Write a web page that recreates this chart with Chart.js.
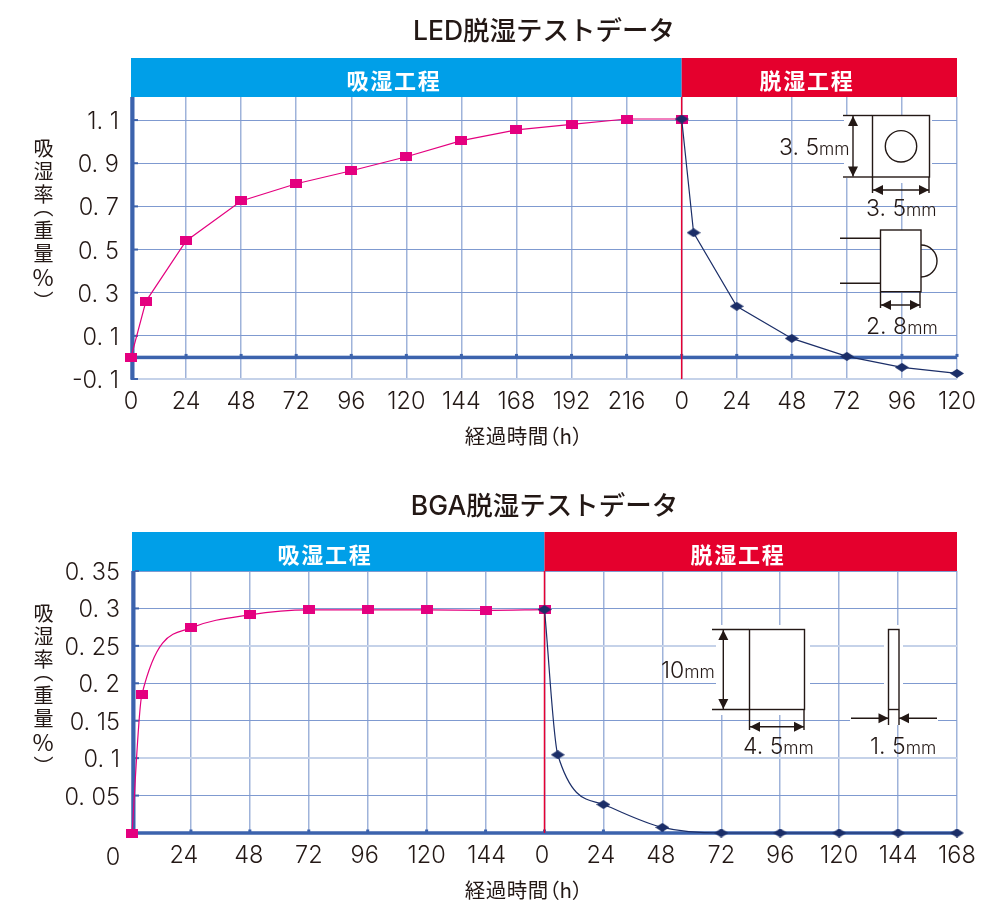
<!DOCTYPE html>
<html lang="ja">
<head>
<meta charset="utf-8">
<title>脱湿テストデータ</title>
<script src="https://cdn.jsdelivr.net/npm/chart.js@4/dist/chart.umd.js"></script>
<style>
    html, body { margin: 0; background: #fff; }
    #page { position: relative; width: 1001px; height: 911px; overflow: hidden; font-family: "Noto Sans CJK JP", sans-serif; color: #231815; }
    canvas { position: absolute; left: 0; }
    .ytitle { position: absolute; left: 31px; writing-mode: vertical-rl; text-orientation: upright; font-size: 20px; line-height: 24px; letter-spacing: 3px; white-space: nowrap; font-feature-settings: "vpal"; }
    .ytitle span { font-size: 23px; }
    .xtitle { position: absolute; left: 424px; width: 200px; text-align: center; font-size: 20.5px; line-height: 24px; letter-spacing: 0.5px; white-space: nowrap; font-feature-settings: "palt"; }
</style>
</head>
<body>
<div id="page">
    <canvas id="ledChart" width="1001" height="455" style="top:0"></canvas>
    <canvas id="bgaChart" width="1001" height="456" style="top:455px"></canvas>
    <div class="ytitle" style="top:138px">吸湿率（重量<span>%</span>）</div>
    <div class="ytitle" style="top:603px">吸湿率（重量<span>%</span>）</div>
    <div class="xtitle" style="top:423px">経過時間（h）</div>
    <div class="xtitle" style="top:877px">経過時間（h）</div>
</div>
<script>
// LED data
const ledAbsorbHours = [0, 6.5, 24, 48, 72, 96, 120, 144, 168, 192, 216, 240];
const ledAbsorbValues = [0, 0.26, 0.54, 0.725, 0.805, 0.865, 0.93, 1.005, 1.055, 1.08, 1.105, 1.105];
const ledDryHours = [240, 245.2, 264, 288, 312, 336, 360];
const ledDryValues = [1.105, 0.578, 0.237, 0.088, 0.005, -0.046, -0.074];
const ledXLabels = ['0', '24', '48', '72', '96', '120', '144', '168', '192', '216', '0', '24', '48', '72', '96', '120'];
const ledYTicks = [-0.1, 0.1, 0.3, 0.5, 0.7, 0.9, 1.1];
const ledYLabels = ['-0. 1', '0. 1', '0. 3', '0. 5', '0. 7', '0. 9', '1. 1'];

// BGA data
const bgaAbsorbHours = [0, 4, 24, 48, 72, 96, 120, 144, 168];
const bgaAbsorbValues = [0, 0.1845, 0.274, 0.2915, 0.298, 0.298, 0.298, 0.2975, 0.2985];
const bgaDryHours = [168, 173.4, 192, 216, 240, 264, 288, 312, 336];
const bgaDryValues = [0.2985, 0.1045, 0.038, 0.0075, 0, 0, 0, 0, 0];
const bgaXLabels = ['0', '24', '48', '72', '96', '120', '144', '0', '24', '48', '72', '96', '120', '144', '168'];
const bgaYTicks = [0.05, 0.1, 0.15, 0.2, 0.25, 0.3, 0.35];
const bgaYLabels = ['0. 05', '0. 1', '0. 15', '0. 2', '0. 25', '0. 3', '0. 35'];

const absorbName = '吸湿工程';
const dryName = '脱湿工程';

const inkCol = '#231815';
const axisCol = '#3c63ad';
const fontName = '"Noto Sans CJK JP", sans-serif';
const digitFont = 'Inter, "Noto Sans CJK JP", sans-serif';

Chart.defaults.font.family = fontName;
Chart.defaults.color = inkCol;

// markers are wider than tall, so they are small canvases
function makeMark(w, h, col, diamond) {
    let c = document.createElement('canvas');
    c.width = w;
    c.height = h;
    let g = c.getContext('2d');
    g.fillStyle = col;
    if (diamond) {
        g.beginPath();
        g.moveTo(0, h / 2);
        g.lineTo(w / 2, 0);
        g.lineTo(w, h / 2);
        g.lineTo(w / 2, h);
        g.closePath();
        g.fill();
    } else {
        g.fillRect(0, 0, w, h);
    }
    return c;
}
const pinkMark = makeMark(12, 9, '#e4007f', false);
const navyMark = makeMark(14, 9, '#1b2e68', true);

function toPoints(xs, ys) {
    return xs.map((x, i) => ({ x: x, y: ys[i] }));
}

// drawing helpers for the package sketches
function line(g, x1, y1, x2, y2, w) {
    g.lineWidth = w || 1.4;
    g.beginPath();
    g.moveTo(x1, y1);
    g.lineTo(x2, y2);
    g.stroke();
}
function head(g, x, y, dx, dy) {
    // tip at x,y, pointing along dx,dy
    g.beginPath();
    g.moveTo(x, y);
    g.lineTo(x - dx * 10 - dy * 5, y - dy * 10 - dx * 5);
    g.lineTo(x - dx * 10 + dy * 5, y - dy * 10 + dx * 5);
    g.closePath();
    g.fill();
}
function dimV(g, x, y1, y2) {
    line(g, x, y1, x, y2, 1.4);
    head(g, x, y1, 0, -1);
    head(g, x, y2, 0, 1);
}
function dimH(g, x1, x2, y) {
    line(g, x1, y, x2, y, 1.4);
    head(g, x1, y, -1, 0);
    head(g, x2, y, 1, 0);
}
function sizeText(g, left, y, num) {
    g.textAlign = 'left';
    g.textBaseline = 'alphabetic';
    g.font = '300 23px ' + digitFont;
    g.fillText(num, left, y);
    let w = g.measureText(num).width;
    g.font = '300 17.5px ' + digitFont;
    g.fillText('mm', left + w, y);
}
function whiteBox(g, x, y, w, h) {
    g.fillStyle = '#fff';
    g.fillRect(x, y, w, h);
    g.fillStyle = inkCol;
}

function drawLedSketch(g) {
    g.strokeStyle = inkCol;
    g.fillStyle = inkCol;
    // front view
    whiteBox(g, 844, 115, 88, 63);
    whiteBox(g, 898, 178, 8, 5);
    whiteBox(g, 880, 230, 41, 62);
    g.lineWidth = 1.4;
    g.strokeRect(872.5, 115.5, 57, 61.5);
    g.beginPath();
    g.arc(901, 146.3, 15.7, 0, Math.PI * 2);
    g.stroke();
    line(g, 843, 115.5, 872, 115.5);
    line(g, 843, 177, 872, 177);
    dimV(g, 853, 116, 176.5);
    sizeText(g, 779, 155, '3. 5');
    line(g, 872.5, 177, 872.5, 193);
    line(g, 929, 177, 929, 193);
    dimH(g, 873, 929, 190);
    sizeText(g, 866, 216, '3. 5');
    // side view
    g.strokeRect(880.5, 230, 40.5, 61.7);
    line(g, 840, 238.3, 880, 238.3);
    line(g, 840, 283.3, 880, 283.3);
    g.lineWidth = 1.4;
    g.beginPath();
    g.arc(921, 261, 16, -Math.PI / 2, Math.PI / 2);
    g.stroke();
    line(g, 880.5, 292, 880.5, 308);
    line(g, 920, 292, 920, 308);
    dimH(g, 881, 920, 305);
    sizeText(g, 866, 334, '2. 8');
}

function drawBgaSketch(g) {
    const top = 455;
    g.strokeStyle = inkCol;
    g.fillStyle = inkCol;
    whiteBox(g, 716, 625 - top, 94, 90);
    whiteBox(g, 884, 625 - top, 19, 90);
    whiteBox(g, 850, 712 - top, 88, 13);
    g.lineWidth = 1.4;
    g.strokeRect(749.5, 629.5 - top, 55, 80);
    line(g, 712, 629.5 - top, 749, 629.5 - top);
    line(g, 712, 709.5 - top, 749, 709.5 - top);
    dimV(g, 723.3, 630 - top, 709 - top);
    sizeText(g, 661, 678 - top, '10');
    line(g, 749.5, 710 - top, 749.5, 730 - top);
    line(g, 804, 710 - top, 804, 730 - top);
    dimH(g, 750, 804, 726.7 - top);
    sizeText(g, 743, 754 - top, '4. 5');
    // side view
    g.lineWidth = 1.4;
    g.strokeRect(888.5, 629.5 - top, 10.5, 80);
    line(g, 888.5, 710 - top, 888.5, 725 - top);
    line(g, 899, 710 - top, 899, 725 - top);
    line(g, 851, 718.3 - top, 888, 718.3 - top);
    line(g, 899, 718.3 - top, 937, 718.3 - top);
    head(g, 888.5, 718.3 - top, 1, 0);
    head(g, 899, 718.3 - top, -1, 0);
    sizeText(g, 870, 754 - top, '1. 5');
}

// band across the top, axis lines, tick stubs, divider
const framePlugin = {
    id: 'frame',
    beforeDatasetsDraw(chart, args, opts) {
        const g = chart.ctx;
        const a = chart.chartArea;
        const xs = chart.scales.x;
        const ys = chart.scales.y;
        const midX = xs.getPixelForValue(opts.split);
        const zeroY = ys.getPixelForValue(0);
        g.save();

        g.fillStyle = '#009fe8';
        g.fillRect(a.left, a.top - 39, midX - a.left, 39);
        g.fillStyle = '#e5002d';
        g.fillRect(midX, a.top - 39, a.right - midX, 39);
        g.fillStyle = '#fff';
        g.font = '700 22px ' + fontName;
        g.letterSpacing = '1.8px';
        g.textAlign = 'center';
        g.textBaseline = 'middle';
        g.fillText(absorbName, opts.leftTextX, a.top - 16.5);
        g.fillText(dryName, opts.rightTextX, a.top - 16.5);
        g.letterSpacing = '0px';

        opts.sketch(g);

        // stubs on the left axis and on the zero line
        g.fillStyle = axisCol;
        ys.ticks.forEach(t => {
            g.fillRect(a.left + 3, ys.getPixelForValue(t.value) - 1, 4, 2);
        });
        xs.ticks.forEach(t => {
            if (t.value > 0) {
                g.fillRect(xs.getPixelForValue(t.value) - 1.5, zeroY - 3.5, 3, 3);
            }
        });
        g.fillRect(a.left, zeroY - 1.75, a.right - a.left, 3.5);
        g.fillRect(a.left - 0.5, a.top, 4, a.bottom - a.top + 1);

        g.strokeStyle = '#e60033';
        g.lineWidth = 1.5;
        g.beginPath();
        g.moveTo(midX, a.top);
        g.lineTo(midX, a.bottom);
        g.stroke();
        g.restore();
    }
};

// the original's tick labels are not quite under their ticks
const nudgePlugin = {
    id: 'nudge',
    afterUpdate(chart, args, opts) {
        if (!opts.x) return;
        chart.scales.x.getLabelItems(chart.chartArea).forEach((item, i) => {
            item.options.translation[0] += opts.x[i] || 0;
            if (i === 0) item.options.translation[1] += opts.firstY || 0;
        });
    }
};

Chart.register(framePlugin, nudgePlugin);

function makeChart(id, c) {
    let datasets = [
        {
            label: 'dry',
            data: toPoints(c.dryX, c.dryY),
            borderColor: '#1b2e68',
            borderWidth: 1.2,
            pointStyle: navyMark,
            cubicInterpolationMode: c.curve ? 'monotone' : 'default',
            tension: 0,
            clip: false,
            order: 0
        },
        {
            label: 'absorb',
            data: toPoints(c.absorbX, c.absorbY),
            borderColor: '#e4007f',
            borderWidth: 1.2,
            pointStyle: pinkMark,
            cubicInterpolationMode: c.curve ? 'monotone' : 'default',
            tension: 0,
            clip: false,
            order: 1
        }
    ];

    let options = {
        responsive: false,
        animation: false,
        layout: { padding: { left: 0, right: 44, top: 0, bottom: 0 } },
        plugins: {
            legend: { display: false },
            tooltip: { enabled: false },
            title: {
                display: true,
                text: c.title,
                fullSize: false,
                color: inkCol,
                font: { family: digitFont, size: 26.5, weight: '500', lineHeight: 1 },
                padding: { top: c.titleTop, bottom: c.titleBottom }
            },
            frame: { split: c.split, sketch: c.sketch, leftTextX: c.leftTextX, rightTextX: c.rightTextX },
            nudge: { x: c.nudge, firstY: c.nudgeFirstY }
        },
        scales: {
            x: {
                type: 'linear',
                min: 0,
                max: c.xMax,
                afterFit: s => { s.height = c.xHeight; },
                border: { display: false },
                grid: { color: '#9fb3da', lineWidth: 1.5, drawTicks: false },
                ticks: {
                    stepSize: 24,
                    autoSkip: false,
                    maxRotation: 0,
                    padding: c.xPad,
                    font: { family: digitFont, size: 23.5, weight: '300' },
                    callback: (v, i) => c.xLabels[i]
                }
            },
            y: {
                min: c.yMin,
                max: c.yMax,
                afterFit: s => { s.width = c.left; },
                afterBuildTicks: s => { s.ticks = c.yTicks.map(v => ({ value: v })); },
                border: { display: false },
                grid: {
                    drawTicks: false,
                    color: ctx => c.lightRows.includes(ctx.tick.value) ? '#c5d2e9' : '#7f9ad0',
                    lineWidth: ctx => c.lightRows.includes(ctx.tick.value) ? 2 : 1
                },
                ticks: {
                    autoSkip: false,
                    padding: 12,
                    labelOffset: 2,
                    font: { family: digitFont, size: 23.5, weight: '300' },
                    callback: (v, i) => c.yLabels[i]
                }
            }
        }
    };

    return new Chart(document.getElementById(id), { type: 'line', data: { datasets: datasets }, options: options });
}

const ledChart = makeChart('ledChart', {
    title: 'LED脱湿テストデータ',
    titleTop: 19,
    titleBottom: 51.5,
    left: 131,
    xHeight: 76,
    xPad: 9,
    xMax: 360,
    split: 240,
    yMin: -0.1,
    yMax: 1.207,
    yTicks: ledYTicks,
    yLabels: ledYLabels,
    xLabels: ledXLabels,
    lightRows: [-0.1],
    absorbX: ledAbsorbHours,
    absorbY: ledAbsorbValues,
    dryX: ledDryHours,
    dryY: ledDryValues,
    curve: false,
    sketch: drawLedSketch,
    leftTextX: 394,
    rightTextX: 807
});

const bgaChart = makeChart('bgaChart', {
    title: 'BGA脱湿テストデータ',
    titleTop: 39,
    titleBottom: 50.5,
    left: 132,
    xHeight: 78,
    xPad: 9,
    xMax: 336,
    split: 168,
    yMin: 0,
    yMax: 0.35,
    yTicks: bgaYTicks,
    yLabels: bgaYLabels,
    xLabels: bgaXLabels,
    lightRows: [0.25, 0.1],
    absorbX: bgaAbsorbHours,
    absorbY: bgaAbsorbValues,
    dryX: bgaDryHours,
    dryY: bgaDryValues,
    curve: true,
    sketch: drawBgaSketch,
    leftTextX: 325,
    rightTextX: 738,
    nudge: [-19, -7, -1, 0, -3, 0, 1, -2.5, -2.5, -1.5, 0, 0, 0, 0, 0],
    nudgeFirstY: 2
});
</script>
</body>
</html>
